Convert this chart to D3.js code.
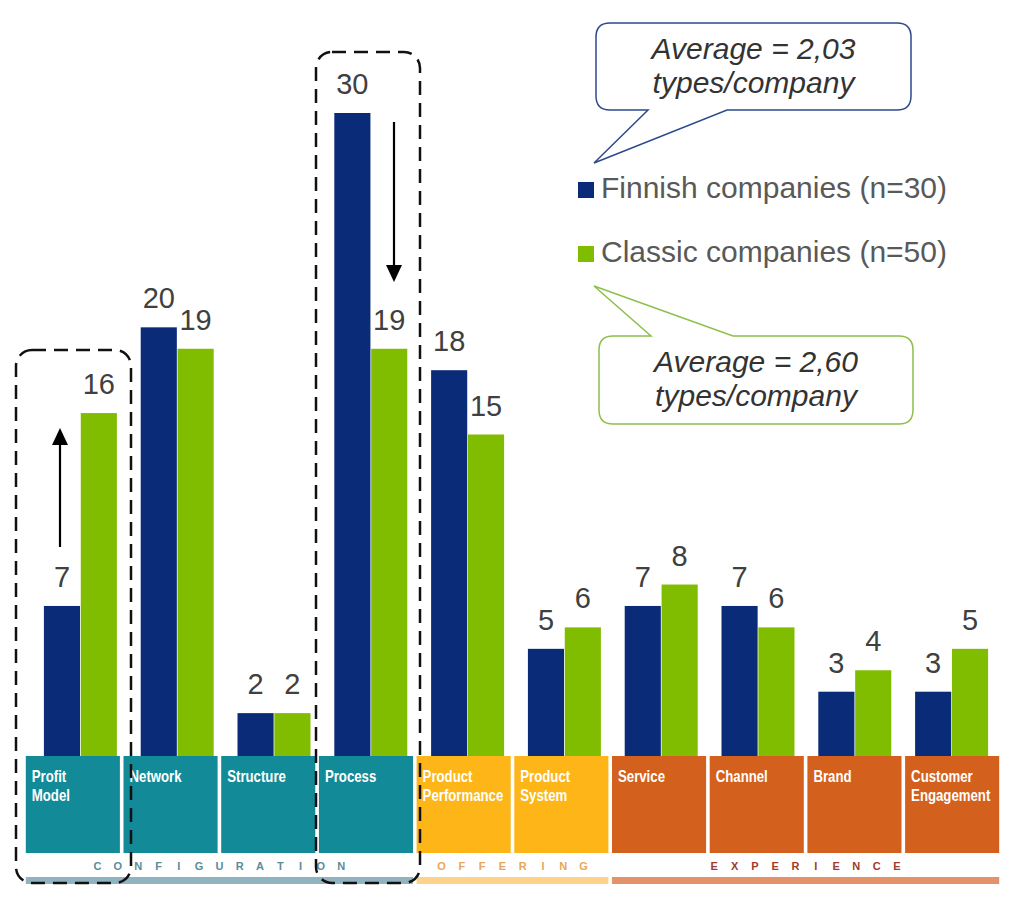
<!DOCTYPE html>
<html>
<head>
<meta charset="utf-8">
<script src="https://cdn.jsdelivr.net/npm/d3@7"></script>
<style>
  html, body { margin: 0; padding: 0; background: #ffffff; }
  svg { display: block; }
</style>
</head>
<body>
<svg id="chart" width="1024" height="900"></svg>
<script>
// ---------------- DATA ----------------
const categories = ["Profit Model", "Network", "Structure", "Process", "Product Performance",
                    "Product System", "Service", "Channel", "Brand", "Customer Engagement"];
const tileLines = [["Profit", "Model"], ["Network"], ["Structure"], ["Process"], ["Product", "Performance"],
                   ["Product", "System"], ["Service"], ["Channel"], ["Brand"], ["Customer", "Engagement"]];
const finnish = [7, 20, 2, 30, 18, 5, 7, 7, 3, 3];
const classic = [16, 19, 2, 19, 15, 6, 8, 6, 4, 5];
const seriesNames = ["Finnish companies (n=30)", "Classic companies (n=50)"];
const groupNames = ["CONFIGURATION", "OFFERING", "EXPERIENCE"];
const categoryGroup = [0, 0, 0, 0, 1, 1, 2, 2, 2, 2];
const averages = ["Average = 2,03", "Average = 2,60"];
const averageUnit = "types/company";

// ---------------- STYLE ----------------
const seriesColors = ["#0A2B78", "#80BC00"];
const tileColors = ["#138A98", "#FDB517", "#D4601D"];
const groupTextColors = ["#5B8C9C", "#E8A65A", "#A23A2A"];
const groupBarColors = ["#8FB3BF", "#FDD28B", "#E4926A"];

const svg = d3.select("#chart");

// ---------------- SCALES ----------------
const y = d3.scaleLinear().domain([0, 30]).range([756, 113]);
const x = d3.scaleBand().domain(categories).range([32, 1000]).paddingInner(0.246).paddingOuter(0.123);
const xs = d3.scaleBand().domain([0, 1]).range([0, x.bandwidth()]).paddingInner(0.02);
const xt = d3.scaleBand().domain(categories).range([24, 1001]).paddingInner(0.037).paddingOuter(0.0185);

const data = categories.map((c, i) => ({ c, i, vals: [finnish[i], classic[i]] }));

// ---------------- TILES ----------------
const tileTop = y(0), tileBottom = 853;
const tiles = svg.append("g");
tiles.selectAll("rect").data(data).join("rect")
  .attr("x", d => xt(d.c)).attr("y", tileTop)
  .attr("width", xt.bandwidth()).attr("height", tileBottom - tileTop)
  .attr("fill", d => tileColors[categoryGroup[d.i]]);

data.forEach(d => {
  tileLines[d.i].forEach((ln, k) => {
    tiles.append("text")
      .attr("transform", `translate(${xt(d.c) + 6},${782 + k * 19}) scale(0.8,1)`)
      .attr("font-family", "'Liberation Sans', Arial, sans-serif")
      .attr("font-weight", "bold")
      .attr("font-size", 16.5)
      .attr("fill", "#ffffff")
      .text(ln);
  });
});

// ---------------- GROUP LABELS & BARS ----------------
groupNames.forEach((g, gi) => {
  const cats = categories.filter((c, i) => categoryGroup[i] === gi);
  const x0 = xt(cats[0]);
  const x1 = xt(cats[cats.length - 1]) + xt.bandwidth();
  svg.append("rect").attr("x", x0).attr("y", 877).attr("width", x1 - x0).attr("height", 7)
    .attr("fill", groupBarColors[gi]);
  const letters = g.split("");
  const step = 20.3;
  const cx = (x0 + x1) / 2;
  letters.forEach((ch, k) => {
    svg.append("text")
      .attr("x", cx + (k - (letters.length - 1) / 2) * step)
      .attr("y", 870)
      .attr("text-anchor", "middle")
      .attr("font-family", "'Liberation Sans', Arial, sans-serif")
      .attr("font-size", 11)
      .attr("font-weight", "bold")
      .attr("fill", groupTextColors[gi])
      .text(ch);
  });
});

// ---------------- BARS ----------------
const bars = svg.append("g");
data.forEach(d => {
  d.vals.forEach((v, s) => {
    const bx = x(d.c) + xs(s);
    bars.append("rect")
      .attr("x", bx).attr("y", y(v))
      .attr("width", xs.bandwidth()).attr("height", y(0) - y(v))
      .attr("fill", seriesColors[s]);
    bars.append("text")
      .attr("x", bx + xs.bandwidth() / 2).attr("y", y(v) - 19)
      .attr("text-anchor", "middle")
      .attr("font-family", "'Liberation Sans', Arial, sans-serif")
      .attr("font-size", 29)
      .attr("fill", "#404040")
      .text(v);
  });
});

// ---------------- LEGEND ----------------
seriesNames.forEach((n, s) => {
  const ly = 182 + s * 64;
  svg.append("rect").attr("x", 578).attr("y", ly).attr("width", 16).attr("height", 16)
    .attr("fill", seriesColors[s]);
  svg.append("text").attr("x", 601).attr("y", ly + 16)
    .attr("font-family", "'Liberation Sans', Arial, sans-serif")
    .attr("font-size", 30)
    .attr("fill", "#595959")
    .text(n);
});

// ---------------- CALLOUTS ----------------
function calloutPath(x0, y0, x1, y1, r, tail, onTop) {
  const [ta, tip, tb] = tail;
  if (!onTop) {
    return `M${x0 + r},${y0} H${x1 - r} Q${x1},${y0} ${x1},${y0 + r} V${y1 - r} Q${x1},${y1} ${x1 - r},${y1}` +
      ` H${tb} L${tip[0]},${tip[1]} L${ta},${y1} H${x0 + r} Q${x0},${y1} ${x0},${y1 - r} V${y0 + r} Q${x0},${y0} ${x0 + r},${y0} Z`;
  }
  return `M${x0 + r},${y0} H${ta} L${tip[0]},${tip[1]} L${tb},${y0} H${x1 - r} Q${x1},${y0} ${x1},${y0 + r} V${y1 - r} Q${x1},${y1} ${x1 - r},${y1}` +
    ` H${x0 + r} Q${x0},${y1} ${x0},${y1 - r} V${y0 + r} Q${x0},${y0} ${x0 + r},${y0} Z`;
}
const callouts = [
  { box: [596, 23, 911, 110], tail: [648, [594, 163], 727], top: false, stroke: "#2E4A8C", base: [59, 93] },
  { box: [599, 336, 913, 424], tail: [651, [594, 286], 733], top: true, stroke: "#8CC04A", base: [372, 406] }
];
callouts.forEach((c, i) => {
  const [x0, y0, x1, y1] = c.box;
  svg.append("path").attr("d", calloutPath(x0, y0, x1, y1, 14, c.tail, c.top))
    .attr("fill", "#ffffff").attr("stroke", c.stroke).attr("stroke-width", 1.5);
  [averages[i], averageUnit].forEach((t, k) => {
    svg.append("text").attr("x", (x0 + x1) / 2).attr("y", c.base[k])
      .attr("text-anchor", "middle")
      .attr("font-family", "'Liberation Sans', Arial, sans-serif")
      .attr("font-style", "italic")
      .attr("font-size", 30)
      .attr("fill", "#333333")
      .text(t);
  });
});

// ---------------- DASHED HIGHLIGHT BOXES ----------------
const boxes = [
  { cat: "Profit Model", x0: 16, x1: 131, y0: 350 },
  { cat: "Process", x0: 316, x1: 420, y0: 52 }
];
boxes.forEach(b => {
  svg.append("rect").attr("x", b.x0).attr("y", b.y0)
    .attr("width", b.x1 - b.x0).attr("height", 883 - b.y0)
    .attr("rx", 16).attr("ry", 16)
    .attr("fill", "none").attr("stroke", "#111111").attr("stroke-width", 2.5)
    .attr("stroke-dasharray", "14 8");
});

// ---------------- ARROWS ----------------
function arrow(xc, yFrom, yTo) {
  const dir = yTo < yFrom ? -1 : 1;
  const headLen = 17, headW = 8;
  svg.append("line").attr("x1", xc).attr("x2", xc).attr("y1", yFrom).attr("y2", yTo - dir * headLen)
    .attr("stroke", "#000").attr("stroke-width", 2.2);
  svg.append("path")
    .attr("d", `M${xc - headW},${yTo - dir * headLen} L${xc + headW},${yTo - dir * headLen} L${xc},${yTo} Z`)
    .attr("fill", "#000");
}
arrow(60, 547, 428);
arrow(394, 122, 282);
</script>
</body>
</html>
